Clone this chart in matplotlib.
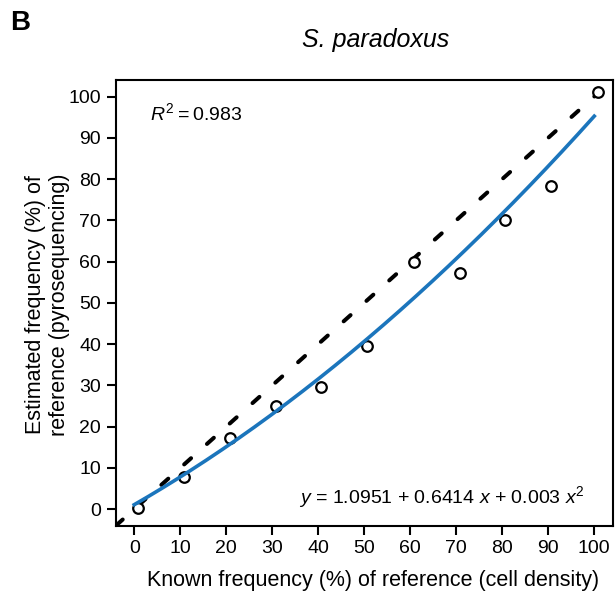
import numpy as np
import matplotlib
matplotlib.use("Agg")
import matplotlib.pyplot as plt

plt.rcParams['font.family'] = ['Liberation Sans', 'DejaVu Sans']
plt.rcParams['mathtext.fontset'] = 'custom'
plt.rcParams['mathtext.rm'] = 'Liberation Sans'
plt.rcParams['mathtext.it'] = 'Liberation Sans:italic'

# known vs estimated reference frequency (%)
known = [0.9, 10.9, 20.9, 30.8, 40.7, 50.7, 60.8, 70.8, 80.7, 90.7, 100.8]
estimated = [0.4, 7.8, 17.3, 25.1, 29.6, 39.5, 59.8, 57.3, 70.0, 78.4, 101.0]

# quadratic fit coefficients and R^2
b0, b1, b2 = 1.0951, 0.6414, 0.003
r2 = 0.983
ticks = list(range(0, 101, 10))

fig = plt.figure(figsize=(6.16, 5.97), dpi=100)
ax = fig.add_axes([0.188, 0.1194, 0.8066, 0.7466])

# identity line
ax.plot([-4, 104], [-4, 104], color='black', lw=2.9, dashes=(2.3, 5.3),
        dash_capstyle='round', zorder=2)
ax.scatter(known, estimated, s=58, facecolors='white', edgecolors='black',
           linewidths=1.6, zorder=3)
xs = np.linspace(0, 100, 200)
ax.plot(xs, b0 + b1 * xs + b2 * xs ** 2, color='#1b75bc', lw=2.6, zorder=4)

ax.set_xlim(-4, 104)
ax.set_ylim(-4, 104)
ax.set_xticks(ticks)
ax.set_yticks(ticks)
ax.tick_params(labelsize=14, width=1.5, length=6.5, pad=4)
for s in ax.spines.values():
    s.set_linewidth(1.5)

ax.set_xlabel('Known frequency (%) of reference (cell density)', fontsize=15.5, va='center')
ax.xaxis.set_label_coords(0.517, -0.122)
ax.set_ylabel('Estimated frequency (%) of\nreference (pyrosequencing)', fontsize=15.5, va='center')
ax.yaxis.set_label_coords(-0.138, 0.496)

ax.text(3.5, 94.2, r'$R^2$' + '\u2009=\u2009' + f'{r2}', fontsize=14, va='baseline')
ax.text(97.9, 1.6, rf'$y$ = {b0} + {b1} $x$ + {b2} $x^2$', fontsize=14,
        ha='right', va='baseline')

fig.text(0.61, 0.933, 'S. paradoxus', fontsize=18, style='italic', ha='center', va='center')
fig.text(0.016, 0.961, 'B', fontsize=20, weight='bold', ha='left', va='center')

fig.savefig('out.png', dpi=100)
